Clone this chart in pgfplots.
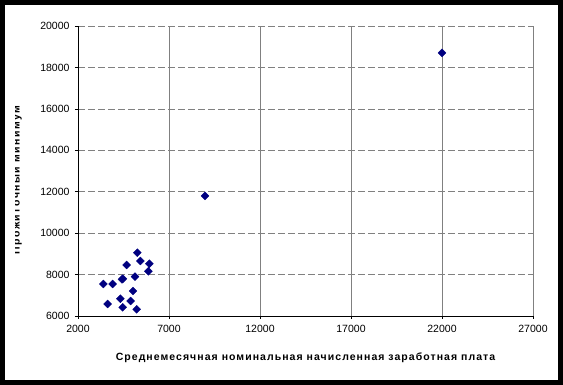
\documentclass[border=0pt]{standalone}
\usepackage{fontspec}
\setmainfont{Liberation Sans}
\usepackage{pgfplots}
\pgfplotsset{compat=1.18}
\definecolor{navyb}{HTML}{000080}
\begin{document}
\begin{tikzpicture}[x=1pt,y=1pt]
\fill[black] (0,0) rectangle (563,385);
\fill[white] (5,5) rectangle (558,380);
\begin{scope}
\clip (15.5,5) rectangle (40,380);
\node[rotate=90, anchor=base, font=\bfseries\fontsize{10.5}{12}\selectfont\addfontfeatures{LetterSpace=14}] at (19.5,205) {Прожиточный минимум};
\end{scope}
\begin{axis}[
  at={(78pt,69pt)}, anchor=south west, scale only axis,
  width=455pt, height=290pt,
  xmin=2000, xmax=27000, ymin=6000, ymax=20000,
  xtick={2000,7000,12000,17000,22000,27000},
  ytick={6000,8000,10000,12000,14000,16000,18000,20000},
  scaled ticks=false,
  axis x line*=bottom, axis y line*=left,
  axis line style={black, line width=0.8pt},
  tick align=outside, major tick length=3pt,
  tick style={black, line width=0.6pt},
  xmajorgrids, ymajorgrids,
  every axis x grid/.style={gray, solid, line width=0.6pt},
  every axis y grid/.style={gray, line width=0.6pt, dash pattern=on 7pt off 3pt},
  /pgf/number format/assume math mode=true,
  /pgf/number format/set thousands separator={},
  tick label style={font=\fontsize{10.5}{12}\selectfont},
  xticklabel style={yshift=-3pt},
  yticklabel style={xshift=-2pt},
  clip=false,
]
\addplot[only marks, mark=square*, mark size=2.8pt, mark options={rotate=45}, color=navyb] coordinates {
(3390,7545) (3905,7545) (4418,7772) (4470,7800) (4674,8463) (5132,7898)
(5260,9057) (5428,8656) (5920,8525) (5868,8158) (3630,6580) (4327,6836)
(4456,6420) (4893,6724) (5022,7207) (5225,6323) (8978,11794) (22000,18700)
};
\end{axis}
\node[font=\bfseries\fontsize{10.5}{12}\selectfont\addfontfeatures{LetterSpace=10}] at (305.5,27) {Среднемесячная номинальная начисленная заработная плата};
\end{tikzpicture}
\end{document}
